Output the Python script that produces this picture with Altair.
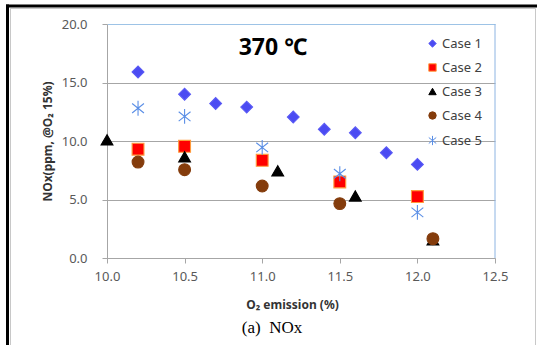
import altair as alt
import pandas as pd

cases = ["Case 1", "Case 2", "Case 3", "Case 4", "Case 5"]

case1_x = [10.2, 10.5, 10.7, 10.9, 11.2, 11.4, 11.6, 11.8, 12.0]
case1_y = [15.9, 14.0, 13.2, 12.9, 12.05, 11.0, 10.7, 9.0, 8.0]
case2_x = [10.2, 10.5, 11.0, 11.5, 12.0]
case2_y = [9.3, 9.55, 8.35, 6.5, 5.25]
case3_x = [10.0, 10.5, 11.1, 11.6, 12.1]
case3_y = [10.1, 8.65, 7.45, 5.3, 1.55]
case4_x = [10.2, 10.5, 11.0, 11.5, 12.1]
case4_y = [8.2, 7.55, 6.15, 4.65, 1.65]
case5_x = [10.2, 10.5, 11.0, 11.5, 12.0]
case5_y = [12.8, 12.1, 9.45, 7.2, 3.9]

x_ticks = [10.0, 10.5, 11.0, 11.5, 12.0, 12.5]
y_ticks = [0.0, 5.0, 10.0, 15.0, 20.0]

rows = []
for name, xs, ys in [
    ("Case 1", case1_x, case1_y),
    ("Case 2", case2_x, case2_y),
    ("Case 3", case3_x, case3_y),
    ("Case 4", case4_x, case4_y),
    ("Case 5", case5_x, case5_y),
]:
    for xv, yv in zip(xs, ys):
        rows.append({"case": name, "o2": xv, "nox": yv})
df = pd.DataFrame(rows)

asterisk = "M0,-1.25L0,1.25M-1,-0.8L1,0.8M-1,0.8L1,-0.8"
shapes = ["diamond", "square", "triangle-up", "circle", asterisk]
fills = ["#4b4bf2", "#ff0000", "#000000", "#843c0c", "transparent"]
strokes = ["#5a5af5", "#ff9a3c", "#000000", "#843c0c", "#5b8fe6"]

W, H = 388, 234
FONT = "Noto Sans"

xscale = alt.Scale(domain=[10.0, 12.5], nice=False, zero=False)
yscale = alt.Scale(domain=[0, 20], nice=False)

legend = alt.Legend(orient="top-right", offset=13, padding=0,
                    labelFont=FONT, labelFontSize=13, labelColor="#404040",
                    symbolSize=55, symbolStrokeWidth=1, labelOffset=3, rowPadding=10)

points = alt.Chart(df).mark_point(filled=True, opacity=1, strokeWidth=1.1, size=140).encode(
    x=alt.X("o2:Q", scale=xscale,
            axis=alt.Axis(values=x_ticks, format=".1f", title="O₂ emission (%)",
                          grid=False, domainColor="#a6a6a6", tickColor="#a6a6a6",
                          tickSize=5, labelPadding=7, labelFontSize=13, labelFlush=False,
                          labelColor="#595959", labelFont=FONT,
                          titleFont=FONT, titleFontSize=12, titleFontWeight="bold",
                          titleColor="#333333", titleX=185, titleY=46,
                          titleBaseline="middle", titleAlign="center")),
    y=alt.Y("nox:Q", scale=yscale,
            axis=alt.Axis(values=y_ticks, format=".1f", title="NOx(ppm, @O₂ 15%)",
                          gridColor={"condition": {"test": "datum.value >= 20", "value": "#9dc3e6"},
                                     "value": "#a6a6a6"},
                          domainColor="#a6a6a6", tickColor="#a6a6a6", labelFlush=False,
                          tickSize=5, labelPadding=15, labelFontSize=13,
                          labelColor="#595959", labelFont=FONT,
                          titleFont=FONT, titleFontSize=12, titleFontWeight="bold",
                          titleColor="#333333", titleX=-60, titleY=117,
                          titleBaseline="middle", titleAlign="center", titleAngle=-90)),
    shape=alt.Shape("case:N", scale=alt.Scale(domain=cases, range=shapes), title="", legend=legend),
    fill=alt.Fill("case:N", scale=alt.Scale(domain=cases, range=fills), title="", legend=legend),
    stroke=alt.Stroke("case:N", scale=alt.Scale(domain=cases, range=strokes), title="", legend=legend),
)

title_txt = alt.Chart(pd.DataFrame({"t": ["370 ℃"]})).mark_text(
    font=FONT, fontSize=23, fontWeight="bold", color="#000000", align="center", baseline="middle"
).encode(text="t:N", x=alt.value(166), y=alt.value(24))

caption = alt.Chart(pd.DataFrame({"t": ["(a)\u00a0\u00a0NOx"]})).mark_text(
    font="Liberation Serif", fontSize=17, color="#000000", align="center", baseline="middle"
).encode(text="t:N", x=alt.value(165), y=alt.value(304))

right_edge = alt.Chart(pd.DataFrame({"a": [0]})).mark_rule(color="#8db4e2", strokeWidth=1).encode(
    x=alt.value(W), y=alt.value(0), y2=alt.value(H))

frame_top = alt.Chart(pd.DataFrame({"a": [0]})).mark_rule(color="#000000", strokeWidth=3).encode(
    x=alt.value(-101), x2=alt.value(430), y=alt.value(-18))
frame_left = alt.Chart(pd.DataFrame({"a": [0]})).mark_rule(color="#000000", strokeWidth=3).encode(
    x=alt.value(-99.5), y=alt.value(-19.5), y2=alt.value(321))
inner_top = alt.Chart(pd.DataFrame({"a": [0]})).mark_rule(color="#c8c8c8", strokeWidth=1).encode(
    x=alt.value(-97), x2=alt.value(428.5), y=alt.value(-15.5))
inner_left = alt.Chart(pd.DataFrame({"a": [0]})).mark_rule(color="#c8c8c8", strokeWidth=1).encode(
    x=alt.value(-96.5), y=alt.value(-15.5), y2=alt.value(321))
inner_right = alt.Chart(pd.DataFrame({"a": [0]})).mark_rule(color="#c8c8c8", strokeWidth=1).encode(
    x=alt.value(428.5), y=alt.value(-15.5), y2=alt.value(321))

chart = alt.layer(
    frame_top, frame_left, inner_top, inner_left, inner_right,
    right_edge, points, title_txt, caption
).properties(
    width=W, height=H,
    autosize=alt.AutoSizeParams(type="none"),
    padding={"left": 107, "top": 24, "right": 42, "bottom": 87},
    background="white",
).configure_view(stroke=None)

chart.save("out.html", embed_options={"renderer": "svg", "actions": False})
